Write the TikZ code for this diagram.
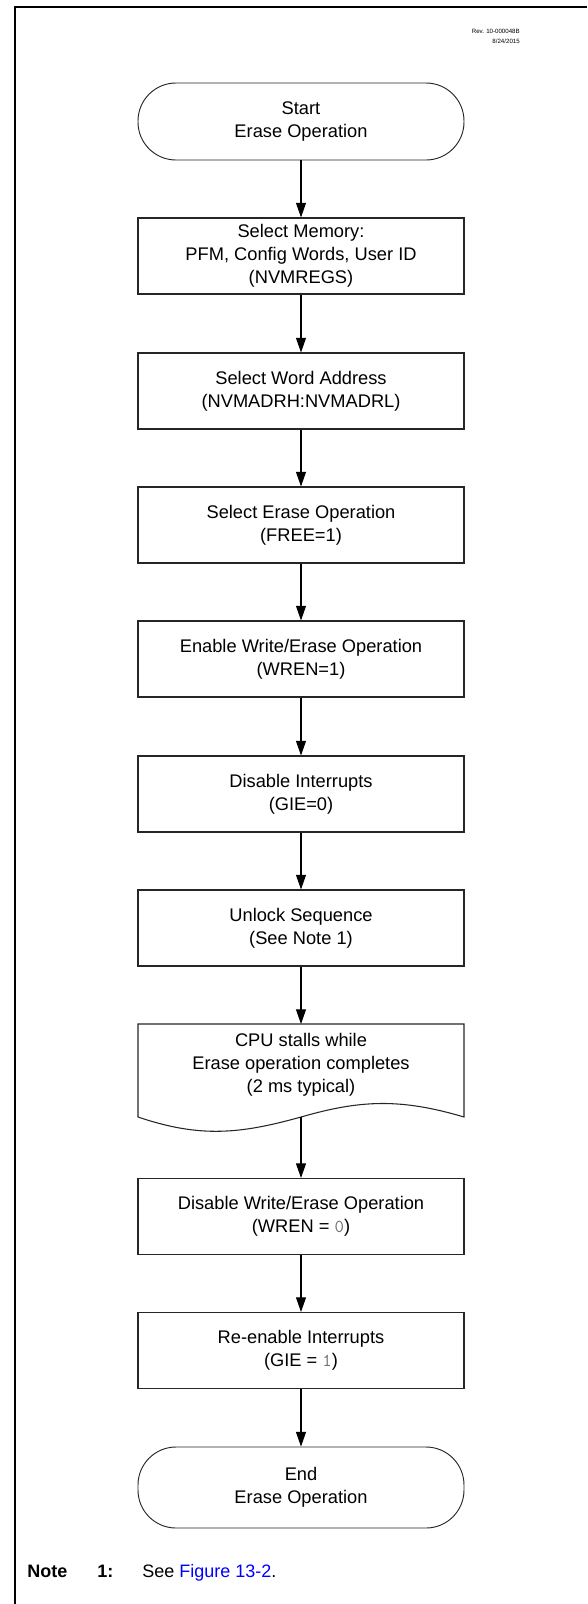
\documentclass[tikz,border=0pt]{standalone}
\usepackage{fontspec}
\setmainfont{Liberation Sans}
\usetikzlibrary{arrows.meta}
\definecolor{linkblue}{RGB}{0,0,255}
\definecolor{digitgray}{RGB}{110,110,110}
\begin{document}
\begin{tikzpicture}[x=0.75pt,y=-0.75pt,
  every node/.style={font=\fontsize{13.7pt}{17.3pt}\selectfont, align=center, inner sep=0pt},
  procbox/.style={draw=black!85, line width=0.8pt, minimum width=244.5pt, minimum height=57pt},
  termbox/.style={draw=black!85, line width=0.7pt, rounded corners=28.5pt, minimum width=244.5pt},
  flow/.style={draw=black, line width=0.8pt, -{Triangle[length=11pt,width=7.5pt]}},
  docshape/.style={draw=black!85, line width=0.8pt}
]
\useasboundingbox (0,0) rectangle (587,1604);
% frame
\draw[line width=1.6pt] (15,1604) -- (15,7) -- (587,7);
% revision
\node[anchor=north east, align=right, font=\fontsize{4.6pt}{7.4pt}\selectfont] (rev) at (520,29) {Rev. 10-000048B\\8/24/2015};

\node[termbox, minimum height=57.75pt] (start) at (301,121.5) {Start\\Erase Operation};
\node[procbox] (b1) at (301,256) {Select Memory:\\PFM, Config Words, User ID\\(NVMREGS)};
\node[procbox] (b2) at (301,391) {Select Word Address\\(NVMADRH:NVMADRL)};
\node[procbox] (b3) at (301,525) {Select Erase Operation\\(FREE=1)};
\node[procbox] (b4) at (301,659) {Enable Write/Erase Operation\\(WREN=1)};
\node[procbox] (b5) at (301,794) {Disable Interrupts\\(GIE=0)};
\node[procbox] (b6) at (301,928) {Unlock Sequence\\(See Note 1)};
% document shape
\draw[docshape] (138,1024) -- (138,1117)
  .. controls (200,1138) and (240,1134) .. (301,1117)
  .. controls (360,1100) and (400,1098) .. (464,1117) -- (464,1024) -- cycle;
\coordinate (docbot) at (301,1117);
\coordinate (doctop) at (301,1024);
\node (doc) at (301,1065) {CPU stalls while\\Erase operation completes\\(2 ms typical)};
\node[procbox] (b8) at (301,1216.5) {Disable Write/Erase Operation\\(WREN = {\ttfamily\color{digitgray}0})};
\node[procbox] (b9) at (301,1350.5) {Re-enable Interrupts\\(GIE = {\ttfamily\color{digitgray}1})};
\node[termbox, minimum height=60.75pt] (end) at (301,1487.5) {End\\Erase Operation};

\draw[flow] (start) -- (b1);
\draw[flow] (b1) -- (b2);
\draw[flow] (b2) -- (b3);
\draw[flow] (b3) -- (b4);
\draw[flow] (b4) -- (b5);
\draw[flow] (b5) -- (b6);
\draw[flow] (b6) -- (doctop);
\draw[flow] (docbot) -- (b8);
\draw[flow] (b8) -- (b9);
\draw[flow] (b9) -- (end);

% note
\node[anchor=base west, font=\fontsize{13.5pt}{16pt}\selectfont\bfseries] (notelbl) at (27,1577) {Note};
\node[anchor=base west, font=\fontsize{13.5pt}{16pt}\selectfont\bfseries] (notenum) at (97,1577) {1:};
\node[anchor=base west, font=\fontsize{13.5pt}{16pt}\selectfont] (notetxt) at (142,1577) {See \textcolor{linkblue}{Figure 13-2}.};
\end{tikzpicture}
\end{document}
